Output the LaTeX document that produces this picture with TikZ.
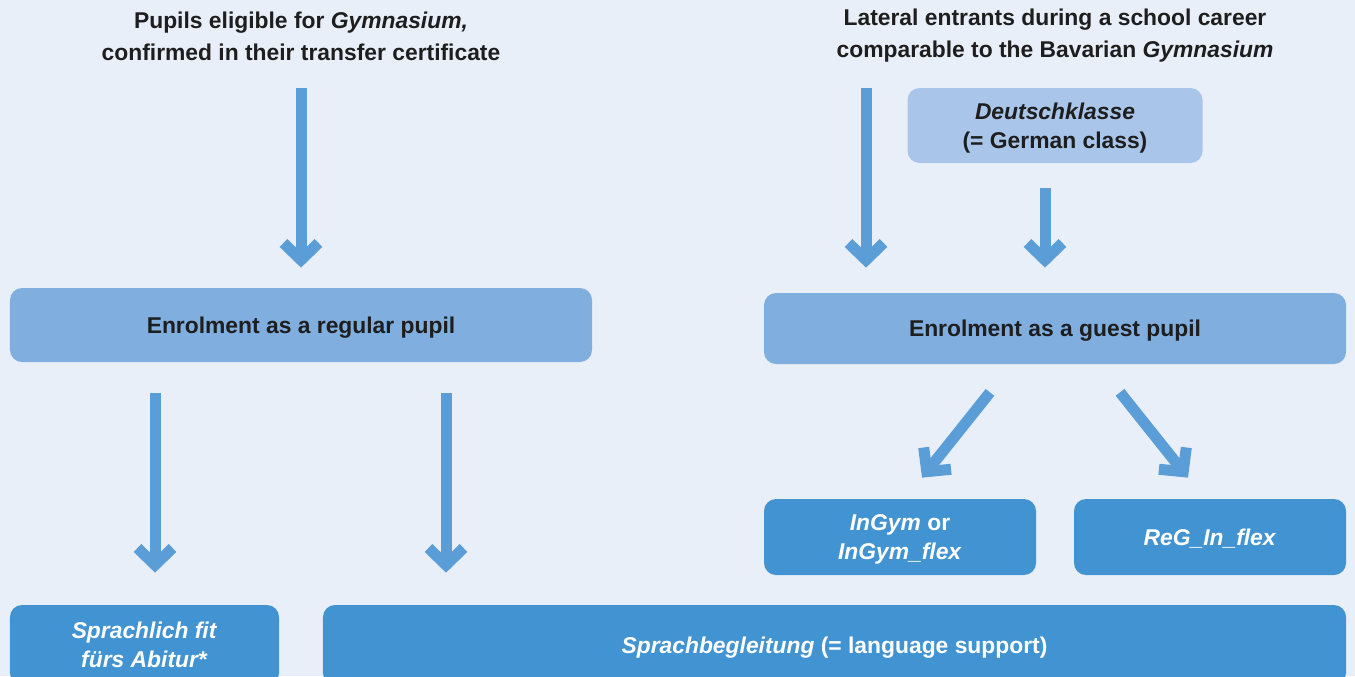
\documentclass[tikz,border=0pt]{standalone}
\usepackage{fontspec}
\setmainfont{Liberation Sans}
\usetikzlibrary{arrows.meta,calc}
\definecolor{bgc}{HTML}{E9EFF8}
\definecolor{lightc}{HTML}{80AEDF}
\definecolor{palec}{HTML}{A9C6EA}
\definecolor{darkc}{HTML}{4193D1}
\definecolor{arrowc}{HTML}{5B9DD6}
\definecolor{inkc}{HTML}{1E1E1E}
\tikzset{
    title/.style={align=center, text=inkc, font=\fontsize{13pt}{18.2pt}\selectfont\bfseries},
    box/.style={align=center, font=\fontsize{13pt}{16.4pt}\selectfont\bfseries,
        rounded corners=2.4mm, inner sep=0pt, text depth=0pt},
    lightbox/.style={box, fill=lightc, text=inkc},
    palebox/.style={box, fill=palec, text=inkc},
    darkbox/.style={box, fill=darkc, text=white},
    flow/.style={draw=arrowc, line width=2.2mm, -{Straight Barb[length=3.4mm, width=7mm]}}
}

\begin{document}
\begin{tikzpicture}[x=0.2mm, y=-0.2mm]
        % background
        \fill[bgc] (0,0) rectangle (1355,676);
        \useasboundingbox (0,0) rectangle (1355,676);

        %titles
        \node[title](titleL) at (301,36)
            {Pupils eligible for \textit{Gymnasium,}\\confirmed in their transfer certificate};
        \node[title](titleR) at (1055,36)
            {Lateral entrants during a school career\\comparable to the Bavarian \textit{Gymnasium}};

        %boxes
        \node[palebox, minimum width=59mm, minimum height=15mm](german) at (1055,125.5)
            {\textit{Deutschklasse}\\(= German class)};
        \node[lightbox, minimum width=116.4mm, minimum height=14.8mm](regular) at (301,325)
            {Enrolment as a regular pupil};
        \node[lightbox, minimum width=116.4mm, minimum height=14.2mm](guest) at (1055,328.5)
            {Enrolment as a guest pupil};
        \node[darkbox, minimum width=54.4mm, minimum height=15.2mm](ingym) at (900,537)
            {\textit{InGym} or\\\textit{InGym\_flex}};
        \node[darkbox, minimum width=54.4mm, minimum height=15.2mm](reg) at (1210,537)
            {\textit{ReG\_In\_flex}};
        \node[darkbox, minimum width=53.8mm, minimum height=16mm](fit) at (144.5,645)
            {\textit{Sprachlich fit}\\\textit{fürs Abitur*}};
        \node[darkbox, minimum width=204.6mm, minimum height=16mm](support) at (834.5,645)
            {\textit{Sprachbegleitung} (= language support)};

        %left branch
        \draw[flow] ($(titleL.center)+(0,52)$) -- ($(regular.north)+(0,-20)$);
        \coordinate (a1) at ($(regular.south)+(-146,31)$);
        \coordinate (a2) at ($(regular.south)+(145,31)$);
        \draw[flow] (a1) -- ($(a1 |- fit.north)+(0,-32)$);
        \draw[flow] (a2) -- ($(a2 |- support.north)+(0,-32)$);

        %right branch
        \coordinate (lat) at ($(german.north)+(-189,0)$);
        \draw[flow] (lat) -- ($(lat |- guest.north)+(0,-25)$);
        \draw[flow] ($(german.south)+(-10,25)$) -- ($(german.south |- guest.north)+(-10,-25)$);
        \draw[flow] ($(guest.south)+(-65,28)$) -- ($(ingym.north)+(22,-21)$);
        \draw[flow] ($(guest.south)+(65,28)$) -- ($(reg.north)+(-22,-21)$);
\end{tikzpicture}
\end{document}
